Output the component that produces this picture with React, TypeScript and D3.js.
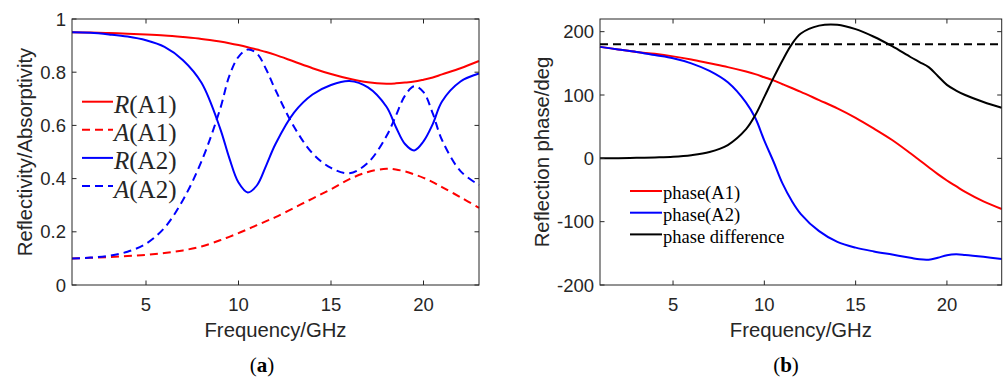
import React, { useRef, useEffect } from 'react';
import * as d3 from 'd3';

// frequency grid (GHz) shared by all curves
const freq = [1, 2, 3, 4, 5, 6, 7, 8, 9, 9.5, 10, 10.5, 11, 11.5, 12, 13, 14, 15, 16, 17, 18, 18.5, 19, 19.5, 20, 20.5, 21, 22, 23];

// panel (a): reflectivity / absorptivity
const reflA1 = [0.95, 0.949, 0.947, 0.945, 0.942, 0.938, 0.932, 0.925, 0.915, 0.909, 0.902, 0.894, 0.885, 0.876, 0.865, 0.84, 0.815, 0.793, 0.775, 0.762, 0.757, 0.758, 0.761, 0.765, 0.772, 0.78, 0.792, 0.815, 0.842];
const absA1 = [0.1, 0.102, 0.105, 0.109, 0.113, 0.12, 0.13, 0.145, 0.168, 0.181, 0.195, 0.21, 0.225, 0.24, 0.255, 0.29, 0.325, 0.36, 0.398, 0.425, 0.437, 0.434, 0.427, 0.416, 0.403, 0.387, 0.368, 0.33, 0.29];
const reflA2 = [0.95, 0.948, 0.942, 0.934, 0.92, 0.895, 0.845, 0.76, 0.59, 0.478, 0.385, 0.348, 0.375, 0.45, 0.53, 0.648, 0.716, 0.752, 0.767, 0.743, 0.67, 0.595, 0.53, 0.506, 0.54, 0.605, 0.69, 0.765, 0.795];
const absA2 = [0.1, 0.103, 0.11, 0.125, 0.155, 0.215, 0.32, 0.465, 0.66, 0.785, 0.858, 0.885, 0.87, 0.81, 0.733, 0.595, 0.495, 0.44, 0.42, 0.46, 0.56, 0.635, 0.712, 0.747, 0.725, 0.645, 0.545, 0.428, 0.376];

// panel (b): reflection phase (deg)
const phaseA1 = [176, 172, 168, 165, 161, 156, 150, 144, 137, 133, 128, 123, 117, 111, 105, 92, 79, 64, 47, 29, 8, -3, -14, -25, -35, -44, -53, -68, -80];
const phaseA2 = [176, 172, 168, 163, 158, 150, 138, 120, 88, 64, 28, -5, -40, -67, -88, -115, -132, -141, -147, -152, -157, -159.5, -160, -157, -153, -151.5, -152.5, -155.5, -159];
const phaseDiff = [0, 0.3, 0.8, 1.5, 2.5, 5, 10, 21, 46, 68, 97, 127, 155, 180, 197, 209.5, 211, 204, 192, 177, 160, 152, 144, 130, 116, 107, 100, 89, 80];
const refPhase = 180;

const xTicks = [5, 10, 15, 20];
const yTicksA = [0, 0.2, 0.4, 0.6, 0.8, 1];
const yTicksB = [-200, -100, 0, 100, 200];

const SANS = '"Liberation Sans", Arial, Helvetica, sans-serif';
const SERIF = '"Liberation Serif", "Times New Roman", serif';
const AXIS = '#262626';

type Series = { values: number[]; colour: string; dashed: boolean };

const App: React.FC = () => {
  const svgRef = useRef<SVGSVGElement | null>(null);

  useEffect(() => {
    if (!svgRef.current) return;
    const svg = d3.select(svgRef.current);
    svg.selectAll('*').remove();

    const drawPanel = (
      x: d3.ScaleLinear<number, number>,
      y: d3.ScaleLinear<number, number>,
      yTicks: number[],
      series: Series[],
      yLabel: string,
      labelX: number
    ) => {
      const [x0, x1] = x.range();
      const [y0, y1] = y.range();
      const g = svg.append('g');

      // curves
      series.forEach(s => {
        const line = d3.line<number>()
          .x((_, i) => x(freq[i]))
          .y(d => y(d))
          .curve(d3.curveCatmullRom.alpha(0.5));
        g.append('path')
          .attr('d', line(s.values))
          .attr('fill', 'none')
          .attr('stroke', s.colour)
          .attr('stroke-width', 2)
          .attr('stroke-dasharray', s.dashed ? '8,5' : null);
      });

      // box
      g.append('rect')
        .attr('x', x0).attr('y', y1)
        .attr('width', x1 - x0).attr('height', y0 - y1)
        .attr('fill', 'none').attr('stroke', AXIS).attr('stroke-width', 1);

      // ticks (inward, on all sides)
      const tl = 4.5;
      xTicks.forEach(t => {
        g.append('line').attr('x1', x(t)).attr('x2', x(t)).attr('y1', y0).attr('y2', y0 - tl).attr('stroke', AXIS);
        g.append('line').attr('x1', x(t)).attr('x2', x(t)).attr('y1', y1).attr('y2', y1 + tl).attr('stroke', AXIS);
        g.append('text')
          .attr('x', x(t)).attr('y', y0 + 25.5)
          .attr('text-anchor', 'middle')
          .style('font-family', SANS).style('font-size', '18.5px').attr('fill', AXIS)
          .text(t);
      });
      yTicks.forEach(t => {
        g.append('line').attr('x1', x0).attr('x2', x0 + tl).attr('y1', y(t)).attr('y2', y(t)).attr('stroke', AXIS);
        g.append('line').attr('x1', x1).attr('x2', x1 - tl).attr('y1', y(t)).attr('y2', y(t)).attr('stroke', AXIS);
        g.append('text')
          .attr('x', x0 - 6).attr('y', y(t)).attr('dy', '0.36em')
          .attr('text-anchor', 'end')
          .style('font-family', SANS).style('font-size', '18.5px').attr('fill', AXIS)
          .text(String(t));
      });

      // axis labels
      g.append('text')
        .attr('x', (x0 + x1) / 2).attr('y', 337)
        .attr('text-anchor', 'middle')
        .style('font-family', SANS).style('font-size', '20.3px').attr('fill', AXIS)
        .text('Frequency/GHz');
      g.append('text')
        .attr('transform', `translate(${labelX},${(y0 + y1) / 2}) rotate(-90)`)
        .attr('text-anchor', 'middle')
        .style('font-family', SANS).style('font-size', '20.3px').attr('fill', AXIS)
        .text(yLabel);
      return g;
    };

    // panel (a)
    const xa = d3.scaleLinear().domain([1, 23]).range([72, 479]);
    const ya = d3.scaleLinear().domain([0, 1]).range([285, 19]);
    const seriesA: Series[] = [
      { values: reflA1, colour: '#ff0000', dashed: false },
      { values: absA1, colour: '#ff0000', dashed: true },
      { values: reflA2, colour: '#0000ff', dashed: false },
      { values: absA2, colour: '#0000ff', dashed: true },
    ];
    drawPanel(xa, ya, yTicksA, seriesA, 'Reflectivity/Absorptivity', 32);

    const legendA = [
      { it: 'R', rest: '(A1)' },
      { it: 'A', rest: '(A1)' },
      { it: 'R', rest: '(A2)' },
      { it: 'A', rest: '(A2)' },
    ];
    legendA.forEach((d, i) => {
      const ly = 101.7 + i * 28.1;
      svg.append('line')
        .attr('x1', 82).attr('x2', 113).attr('y1', ly).attr('y2', ly)
        .attr('stroke', seriesA[i].colour).attr('stroke-width', 2)
        .attr('stroke-dasharray', seriesA[i].dashed ? '8,5' : null);
      const t = svg.append('text')
        .attr('x', 114).attr('y', ly + 11.5)
        .style('font-family', SERIF).style('font-size', '25px').attr('fill', AXIS);
      t.append('tspan').style('font-style', 'italic').text(d.it);
      t.append('tspan').text(d.rest);
    });

    // panel (b)
    const xb = d3.scaleLinear().domain([1, 23]).range([600, 1001.7]);
    const yb = d3.scaleLinear().domain([-200, 220]).range([285, 19]);
    const seriesB: Series[] = [
      { values: phaseA1, colour: '#ff0000', dashed: false },
      { values: phaseA2, colour: '#0000ff', dashed: false },
      { values: phaseDiff, colour: '#000000', dashed: false },
    ];
    const gb = drawPanel(xb, yb, yTicksB, seriesB, 'Reflection phase/deg', 549);
    gb.append('line')
      .attr('x1', xb(1)).attr('x2', xb(23)).attr('y1', yb(refPhase)).attr('y2', yb(refPhase))
      .attr('stroke', '#000').attr('stroke-width', 2).attr('stroke-dasharray', '8,5');

    const legendB = ['phase(A1)', 'phase(A2)', 'phase difference'];
    legendB.forEach((label, i) => {
      const ly = 191 + i * 21.7;
      svg.append('line')
        .attr('x1', 630).attr('x2', 662).attr('y1', ly).attr('y2', ly)
        .attr('stroke', seriesB[i].colour).attr('stroke-width', 2);
      svg.append('text')
        .attr('x', 663).attr('y', ly + 8.3)
        .style('font-family', SERIF).style('font-size', '18.5px').attr('fill', '#000')
        .text(label);
    });

    // sub-figure captions
    [{ x: 262, s: 'a' }, { x: 786, s: 'b' }].forEach(c => {
      const t = svg.append('text')
        .attr('x', c.x).attr('y', 372)
        .attr('text-anchor', 'middle')
        .style('font-family', SERIF).style('font-size', '21px').attr('fill', '#000');
      t.append('tspan').text('(');
      t.append('tspan').style('font-weight', 'bold').text(c.s);
      t.append('tspan').text(')');
    });
  }, []);

  return (
    <svg
      ref={svgRef}
      width={1005}
      height={381}
      style={{ position: 'absolute', left: 0, top: 0, background: '#fff' }}
    />
  );
};

export default App;
